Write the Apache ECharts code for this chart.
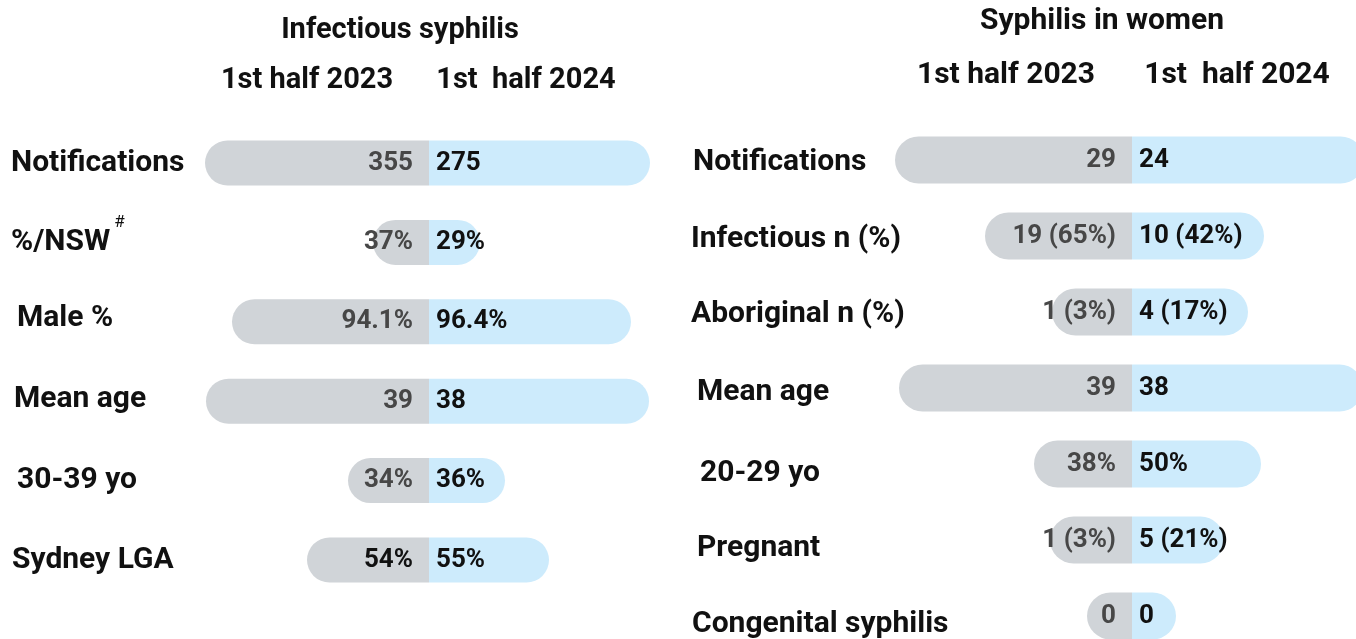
<!DOCTYPE html>
<html>
<head>
<meta charset="utf-8">
<script src="https://cdn.jsdelivr.net/npm/echarts@6/dist/echarts.min.js"></script>
<style>
html,body{margin:0;padding:0;background:#fff;}
#chart{width:1356px;height:639px;}
</style>
</head>
<body>
<div id="chart"></div>
<script>
// ---- Data ----
const leftTitle = 'Infectious syphilis';
const rightTitle = 'Syphilis in women';
const periods = ['1st half 2023', '1st  half 2024'];

const leftCategories = ['Notifications', '%/NSW', 'Male %', 'Mean age', '30-39 yo', 'Sydney LGA'];
const left2023Labels = ['355', '37%', '94.1%', '39', '34%', '54%'];
const left2024Labels = ['275', '29%', '96.4%', '38', '36%', '55%'];
// bar lengths as drawn in the infographic (arbitrary visual units)
const left2023Bars = [224, 56, 197, 223, 81, 122];
const left2024Bars = [221, 51, 202, 220, 76, 120];

const rightCategories = ['Notifications', 'Infectious n (%)', 'Aboriginal n (%)', 'Mean age', '20-29 yo', 'Pregnant', 'Congenital syphilis'];
const right2023Labels = ['29', '19 (65%)', '1 (3%)', '39', '38%', '1 (3%)', '0'];
const right2024Labels = ['24', '10 (42%)', '4 (17%)', '38', '50%', '5 (21%)', '0'];
const right2023Bars = [237, 147, 80, 233, 98, 82, 45];
const right2024Bars = [232, 132, 116, 231, 129, 92, 44];

// ---- Styles ----
const FONT = 'Roboto, "Liberation Sans", sans-serif';
const GREY = '#d0d4d8';
const BLUE = '#cdebfc';
// small visual nudges of the row labels (style only): [dx, dy]
const leftLabelNudge = [[0, 0], [0, 0], [6, -3], [3, -2], [6, 0], [1, 0]];
const rightLabelNudge = [[2, 2], [0, 3], [0, 2], [6, 4], [9, 9], [6, 8], [1, 8]];

const chart = echarts.init(document.getElementById('chart'));

function catAxis(gridIndex, cats, margin, nudges) {
  return {
    type: 'category', gridIndex: gridIndex, inverse: true, boundaryGap: false,
    data: cats.map((c, i) => {
      const dx = nudges[i][0], dy = nudges[i][1];
      return {value: c, textStyle: {align: 'left', padding: [Math.max(dy, 0) * 2, 0, Math.max(-dy, 0) * 2, dx]}};
    }),
    axisLine: {show: false}, axisTick: {show: false}, splitLine: {show: false},
    axisLabel: {
      align: 'left', margin: margin, color: '#111', fontFamily: FONT, fontWeight: 'bold', fontSize: 30,
      formatter: function (v) { return v === '%/NSW' ? v + '{sup|#}' : v; },
      rich: {sup: {fontSize: 17, fontWeight: 'normal', color: '#111', fontFamily: FONT, padding: [0, 0, 40, 4]}}
    }
  };
}

function barSeries(gi, bars, labels, isLeft, barW) {
  return {
    type: 'bar', xAxisIndex: gi, yAxisIndex: gi, stack: 's' + gi, barWidth: barW, clip: false,
    data: bars.map(v => isLeft ? -v : v),
    itemStyle: {color: isLeft ? GREY : BLUE, borderRadius: isLeft ? [barW / 2, 0, 0, barW / 2] : [0, barW / 2, barW / 2, 0]},
    label: {
      show: true, position: isLeft ? 'insideRight' : 'insideLeft', distance: isLeft ? 16 : 7,
      fontFamily: FONT, fontWeight: 'bold', fontSize: 26,
      color: isLeft ? '#474747' : '#111',
      formatter: function (p) {
        const dark = isLeft && gi === 0 && p.dataIndex === labels.length - 1;
        return dark ? '{d|' + labels[p.dataIndex] + '}' : labels[p.dataIndex];
      },
      rich: {d: {color: '#111', fontFamily: FONT, fontWeight: 'bold', fontSize: 26}}
    },
    emphasis: {disabled: true},
    silent: true
  };
}

function txt(text, x, y, size) {
  return {type: 'text', x: x, y: y, style: {text: text, fontFamily: FONT, fontWeight: 'bold', fontSize: size, fill: '#111', align: 'center', verticalAlign: 'middle'}};
}

chart.setOption({
  animation: false,
  backgroundColor: '#fff',
  grid: [
    {left: 199, top: 163, width: 460, height: 397, outerBoundsMode: 'none', containLabel: false},
    {left: 892, top: 160, right: 0, height: 456, outerBoundsMode: 'none', containLabel: false}
  ],
  xAxis: [
    {type: 'value', gridIndex: 0, min: -230, max: 230, show: false},
    {type: 'value', gridIndex: 1, min: -240, max: 224, show: false}
  ],
  yAxis: [
    catAxis(0, leftCategories, 188, leftLabelNudge),
    catAxis(1, rightCategories, 201, rightLabelNudge)
  ],
  series: [
    barSeries(0, left2023Bars, left2023Labels, true, 45),
    barSeries(0, left2024Bars, left2024Labels, false, 45),
    barSeries(1, right2023Bars, right2023Labels, true, 47),
    barSeries(1, right2024Bars, right2024Labels, false, 47)
  ],
  graphic: [
    txt(leftTitle, 400, 31, 29),
    txt(periods[0], 307, 81, 29),
    txt(periods[1], 526, 81, 29),
    txt(rightTitle, 1102, 21, 30),
    txt(periods[0], 1006, 75, 30),
    txt(periods[1], 1237, 75, 30)
  ]
});
</script>
</body>
</html>
